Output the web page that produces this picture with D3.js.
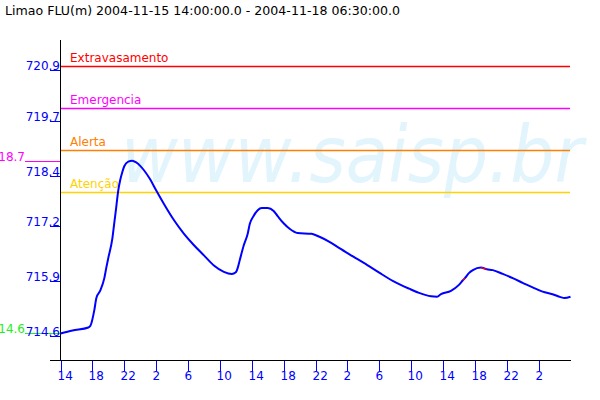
<!DOCTYPE html>
<html>
<head>
<meta charset="utf-8">
<script src="https://cdn.jsdelivr.net/npm/d3@7"></script>
<style>
  html, body { margin: 0; padding: 0; background: #ffffff; }
  svg { display: block; }
  text { font-family: "DejaVu Sans", sans-serif; }
</style>
</head>
<body>
<script>
// ---------------- DATA ----------------
const titleText = "Limao FLU(m) 2004-11-15 14:00:00.0 - 2004-11-18 06:30:00.0";
const startTime = Date.UTC(2004, 10, 15, 14, 0);   // 2004-11-15 14:00
const endHours = 64;                                 // axis end (hours after start)

// hours after start, water level (m)
const hours = [0, 1.5, 3.5, 3.75, 4.25, 4.5, 5.0, 5.5, 5.75, 6.0, 6.5, 6.75, 7.0, 7.25, 7.5, 7.75,
  8.0, 8.5, 9.0, 9.5, 10.0, 10.5, 11.25, 12.0, 13.0, 14.25, 15.5, 16.75, 18.0, 19.25, 20.5,
  21.5, 22.0, 22.25, 22.5, 23.0, 23.5, 23.75, 24.25, 24.75, 25.25, 26.0, 26.75, 27.25, 28.0,
  28.75, 29.75, 31.5, 32.5, 33.75, 35.0, 36.75, 38.5, 40.0, 41.75, 43.75, 45.0, 46.5, 47.25,
  47.75, 49.0, 50.0, 50.5, 50.75, 51.25, 51.75, 52.75, 53.5, 54.25, 55.5, 56.75, 58.0, 59.25,
  60.5, 61.75, 62.75, 63.25, 64.0];
const levels = [714.66, 714.73, 714.80, 714.84, 715.22, 715.50, 715.68, 715.97, 716.22, 716.45,
  716.90, 717.28, 717.66, 718.05, 718.30, 718.48, 718.62, 718.73, 718.75, 718.71, 718.63,
  718.52, 718.31, 718.05, 717.72, 717.34, 717.02, 716.75, 716.51, 716.27, 716.12, 716.07,
  716.11, 716.22, 716.40, 716.75, 717.03, 717.25, 717.45, 717.58, 717.63, 717.63, 717.56,
  717.44, 717.27, 717.14, 717.04, 717.02, 716.95, 716.83, 716.68, 716.48, 716.28, 716.10,
  715.90, 715.72, 715.62, 715.54, 715.53, 715.59, 715.67, 715.81, 715.92, 715.97, 716.09,
  716.16, 716.22, 716.18, 716.16, 716.07, 715.97, 715.86, 715.75, 715.65, 715.59, 715.52,
  715.50, 715.53];
// stretches (hours) drawn as filled/estimated data
const estimatedStretches = [[50.5, 50.75], [52.75, 53.5]];

// alert levels
const levelNames = ["Extravasamento", "Emergencia", "Alerta", "Atenção"];
const levelValues = [721.0, 720.0, 719.0, 718.0];

// axis ticks
const yTickValues = [714.6, 715.9, 717.2, 718.4, 719.7, 720.9];
const yTickLabels = ["714.6", "715.9", "717.2", "718.4", "719.7", "720.9"];
const xTickHours = [0, 4, 8, 12, 16, 20, 24, 28, 32, 36, 40, 44, 48, 52, 56, 60];

const watermark = "www.saisp.br";

// ---------------- STYLE ----------------
const levelColors = ["#ff0000", "#ff00ff", "#ff8000", "#ffd200"];
const blue = "#0000ff";

// ---------------- DRAW ----------------
const W = 600, H = 400;
const svg = d3.select("body").append("svg").attr("width", W).attr("height", H);

const hourMs = 3600 * 1000;
const toDate = h => new Date(startTime + h * hourMs);
const data = hours.map((h, i) => ({ t: toDate(h), h: h, v: levels[i] }));

const x = d3.scaleUtc().domain([toDate(0), toDate(endHours)]).range([60.5, 570.5]);
const y = d3.scaleLinear().domain([714.6, 720.9]).range([336, 70]);

// title
svg.append("text").attr("x", 5).attr("y", 15)
  .attr("font-size", 13).attr("fill", "#000")
  .attr("textLength", 395).attr("lengthAdjust", "spacingAndGlyphs")
  .text(titleText);

// watermark
svg.append("text").attr("x", 121).attr("y", 182)
  .attr("font-family", "'Liberation Sans', Arial, sans-serif")
  .attr("font-style", "italic")
  .attr("font-size", 78)
  .attr("fill", "#e2f4fc")
  .attr("textLength", 462).attr("lengthAdjust", "spacingAndGlyphs")
  .text(watermark);

// alert level lines
levelValues.forEach((v, i) => {
  svg.append("line")
    .attr("x1", 60).attr("x2", 570)
    .attr("y1", Math.round(y(v)) + 0.5).attr("y2", Math.round(y(v)) + 0.5)
    .attr("stroke", levelColors[i]).attr("stroke-width", 1.3);
  svg.append("text").attr("x", 70).attr("y", Math.round(y(v)) - 4)
    .attr("font-size", 12).attr("fill", levelColors[i])
    .text(levelNames[i]);
});

// min / max markers
const trunc1 = v => (Math.floor(v * 10) / 10).toFixed(1);
const vMax = d3.max(levels), vMin = d3.min(levels);
[[vMax, "#ff00ff"], [vMin, "#22ee22"]].forEach(([v, c]) => {
  const yy = Math.round(y(v)) + 0.5;
  svg.append("line").attr("x1", 25).attr("x2", 60).attr("y1", yy).attr("y2", yy)
    .attr("stroke", c).attr("stroke-width", 1);
  svg.append("text").attr("x", 25).attr("y", yy - 1)
    .attr("text-anchor", "end").attr("font-size", 12).attr("fill", c)
    .text(trunc1(v));
});

// axes lines
svg.append("line").attr("x1", 60.5).attr("x2", 60.5).attr("y1", 40).attr("y2", 360)
  .attr("stroke", "#000").attr("stroke-width", 1);
svg.append("line").attr("x1", 50).attr("x2", 571).attr("y1", 360.5).attr("y2", 360.5)
  .attr("stroke", "#000").attr("stroke-width", 1);

// y ticks
yTickValues.forEach((v, i) => {
  const yy = Math.round(y(v)) + 0.5;
  svg.append("line").attr("x1", 50).attr("x2", 60).attr("y1", yy).attr("y2", yy)
    .attr("stroke", blue).attr("stroke-width", 1);
  svg.append("text").attr("x", 60).attr("y", yy - 1)
    .attr("text-anchor", "end").attr("font-size", 12).attr("fill", blue)
    .text(yTickLabels[i]);
});

// x ticks
const fmtHour = d3.utcFormat("%-H");
xTickHours.forEach(h => {
  const xx = Math.round(x(toDate(h))) + 0.5;
  svg.append("line").attr("x1", xx).attr("x2", xx).attr("y1", 361).attr("y2", 371)
    .attr("stroke", blue).attr("stroke-width", 1);
  svg.append("text").attr("x", xx - 4).attr("y", 380)
    .attr("font-size", 12).attr("fill", blue)
    .text(fmtHour(toDate(h)));
});

// series line
const line = d3.line().x(d => x(d.t)).y(d => y(d.v)).curve(d3.curveMonotoneX);
svg.append("path").datum(data).attr("d", line)
  .attr("fill", "none").attr("stroke", blue).attr("stroke-width", 2)
  .attr("stroke-linejoin", "round");

// estimated stretches in red
const lineLin = d3.line().x(d => x(d.t)).y(d => y(d.v));
estimatedStretches.forEach(([a, b]) => {
  const seg = data.filter(d => d.h >= a && d.h <= b);
  svg.append("path").datum(seg).attr("d", lineLin)
    .attr("fill", "none").attr("stroke", "#ff0000").attr("stroke-width", 1.2);
});
</script>
</body>
</html>
